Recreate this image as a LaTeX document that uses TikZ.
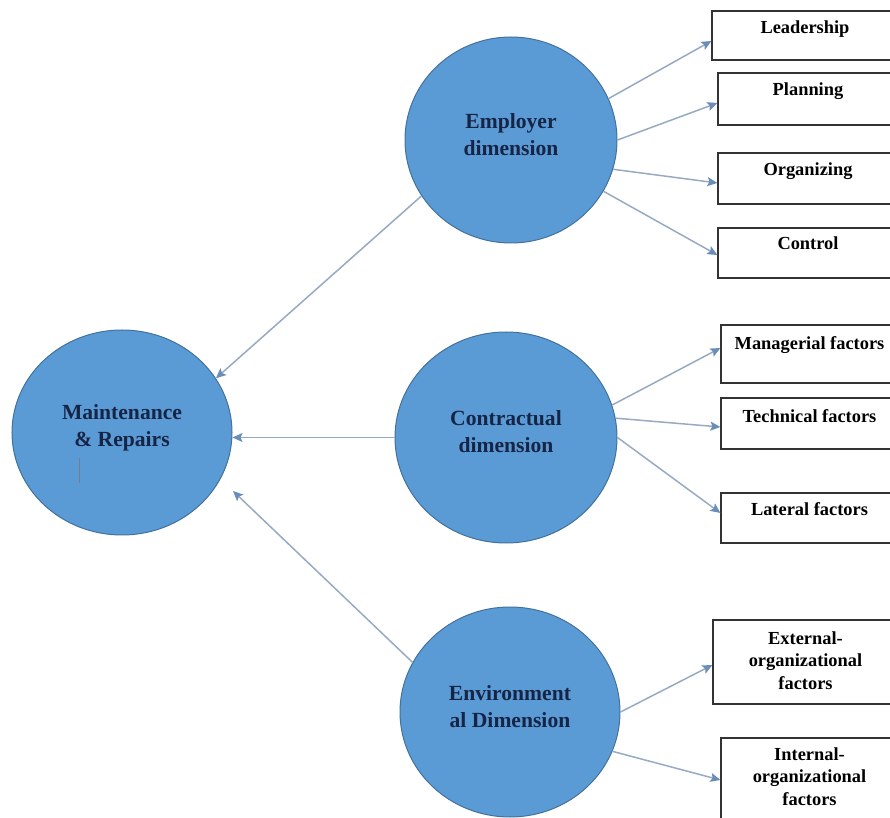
\documentclass[tikz,border=0pt]{standalone}
\usepackage{fontspec}
\setmainfont{Liberation Serif}
\usetikzlibrary{arrows.meta, positioning, shapes.geometric}

\definecolor{dimblue}{RGB}{91,155,213}
\definecolor{dimedge}{RGB}{65,113,156}
\definecolor{dimink}{RGB}{22,36,70}
\definecolor{linkgray}{RGB}{150,170,195}
\definecolor{tipblue}{RGB}{105,140,185}

\begin{document}
\begin{tikzpicture}[x=0.5pt, y=-0.5pt,
        dim/.style={ellipse, draw=dimedge, line width=0.5pt, fill=dimblue, inner sep=0pt},
        dimtext/.style={align=center, text=dimink, font=\fontsize{10.8}{13.5}\selectfont\bfseries, inner sep=0pt},
        item/.style={rectangle, draw=black!80, line width=0.6pt, inner sep=0pt},
        itemtext/.style={align=center, font=\fontsize{9.2}{11.2}\selectfont\bfseries, inner sep=0pt},
        link/.style={draw=linkgray, line width=0.75pt, -{Stealth[length=5pt, width=4.5pt, inset=1pt, color=tipblue]}}]
        \useasboundingbox (0, 0) rectangle (890, 818);

        % the four dimensions
        \node[dim, minimum width=110pt, minimum height=102.5pt] (maint) at (122, 432.5) {};
        \node[dim, minimum width=106pt, minimum height=103pt] (emp) at (511, 140) {};
        \node[dim, minimum width=111pt, minimum height=105.5pt] (contr) at (506, 437.5) {};
        \node[dim, minimum width=110pt, minimum height=105pt] (env) at (510, 712) {};

        \node[dimtext] (maint-t) at ([yshift=2.5pt]maint.center) {Maintenance\\\& Repairs};
        \node[dimtext] (emp-t) at ([yshift=2.5pt]emp.center) {Employer\\dimension};
        \node[dimtext] (contr-t) at ([yshift=3pt]contr.center) {Contractual\\dimension};
        \node[dimtext] (env-t) at ([yshift=2.5pt]env.center) {Environment\\al Dimension};
        \draw[dimink!60, line width=0.4pt] (79, 458) -- (79, 483);

        % boxes on the right
        \node[item, minimum width=93pt, minimum height=24.5pt] (lead) at (805, 35.5) {};
        \node[item, minimum width=90pt, minimum height=26pt] (plan) at (808, 99) {};
        \node[item, minimum width=90pt, minimum height=25.5pt] (org) at (808, 178.5) {};
        \node[item, minimum width=90pt, minimum height=25pt] (ctrl) at (808, 253) {};
        \node[item, minimum width=88.5pt, minimum height=29pt] (man) at (809.5, 354) {};
        \node[item, minimum width=88.5pt, minimum height=25.5pt] (tech) at (809.5, 423.5) {};
        \node[item, minimum width=88.5pt, minimum height=25pt] (lat) at (809.5, 518) {};
        \node[item, minimum width=92.5pt, minimum height=42pt] (ext) at (805.5, 662) {};
        \node[item, minimum width=88.5pt, minimum height=46pt] (int) at (809.5, 784) {};

        \node[itemtext, below=5pt of lead.north] (lead-t) {Leadership};
        \node[itemtext, below=5pt of plan.north] (plan-t) {Planning};
        \node[itemtext, below=5pt of org.north] (org-t) {Organizing};
        \node[itemtext, below=4.5pt of ctrl.north] (ctrl-t) {Control};
        \node[itemtext, below=6pt of man.north] (man-t) {Managerial factors};
        \node[itemtext, below=6pt of tech.north] (tech-t) {Technical factors};
        \node[itemtext, below=5pt of lat.north] (lat-t) {Lateral factors};
        \node[itemtext, below=6pt of ext.north] (ext-t) {External-\\organizational\\factors};
        \node[itemtext, below=5pt of int.north] (int-t) {Internal-\\organizational\\factors};

        % connectors
        \draw[link] (emp.23) -- ([yshift=-2.75pt]lead.west);
        \draw[link] (emp.0) -- ([yshift=-2pt]plan.west);
        \draw[link] (emp.-16) -- ([yshift=-2.25pt]org.west);
        \draw[link] (emp.-29) -- ([yshift=-1pt]ctrl.west);

        \draw[link] (contr.17) -- ([yshift=3pt]man.west);
        \draw[link] (contr.10) -- ([yshift=-1.75pt]tech.west);
        \draw[link] (contr.0) -- ([yshift=2.5pt]lat.west);

        \draw[link] (env.0) -- ([yshift=-1.5pt]ext.west);
        \draw[link] (env.-21) -- ([yshift=2pt]int.west);

        \coordinate (maint-in) at (233, 491);
        \draw[link] (emp.212) -- (maint.30);
        \draw[link] (contr.west) -- (contr.west -| maint.east);
        \draw[link] (env.153) -- (maint-in);
    \end{tikzpicture}
\end{document}
